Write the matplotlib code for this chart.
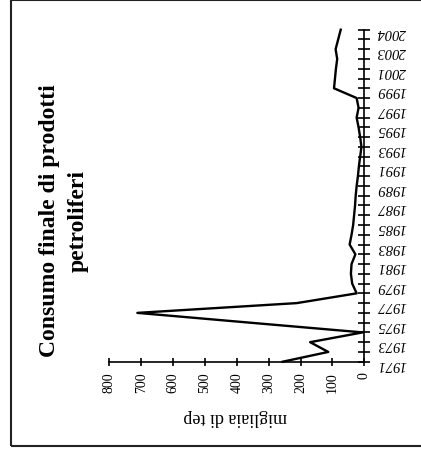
import matplotlib.pyplot as plt
from matplotlib.patches import Rectangle

plt.rcParams['font.family'] = ['Liberation Serif', 'DejaVu Serif']

# category axis (one label every two categories)
years = ['1971', '1972', '1973', '1974', '1975', '1976', '1977', '1978', '1979',
         '1980', '1981', '1982', '1983', '1984', '1985', '1986', '1987', '1988',
         '1989', '1990', '1991', '1992', '1993', '1994', '1995', '1996', '1997',
         '1998', '1999', '2000', '2001', '2002', '2003', '', '2004']

# migliaia di tep
consumo = [256, 113, 170, 5, 360, 712, 212, 24, 38, 42,
           40, 28, 46, 40, 35, 32, 29, 27, 24, 20,
           17, 13, 9, 13, 18, 24, 18, 24, 95, 92,
           89, 85, 90, 82, 74]

value_ticks = [0, 100, 200, 300, 400, 500, 600, 700, 800]

fig = plt.figure(figsize=(4.21, 4.52), dpi=100)
ax = fig.add_axes([109.3 / 421, 1 - 362.7 / 452, 255 / 421, 332 / 452])

pos = list(range(len(years)))
ax.plot(consumo, pos, color='black', lw=1.7, clip_on=False)

ax.set_xlim(800, 0)
ax.set_ylim(0, len(years) - 1)

for side in ['top', 'left']:
    ax.spines[side].set_visible(False)
for side in ['bottom', 'right']:
    ax.spines[side].set_linewidth(1.2)

ax.xaxis.tick_bottom()
ax.yaxis.tick_right()

ax.set_xticks(value_ticks)
ax.set_xticklabels([str(v) for v in value_ticks])
ax.tick_params(axis='x', direction='inout', length=6, width=1.2,
               labelsize=10, labelrotation=90, pad=4)

ax.set_yticks(pos)
ax.set_yticklabels([y if i % 2 == 0 else '' for i, y in enumerate(years)],
                   fontstyle='italic')
ax.tick_params(axis='y', direction='inout', length=8, width=1.2,
               labelsize=10.5, labelrotation=180, pad=5)

fig.text(235.5 / 421, 1 - 418 / 452, 'migliaia di tep', rotation=180,
         ha='center', va='center', fontsize=13)
fig.text(64 / 421, 1 - 221 / 452, 'Consumo finale di prodotti\npetroliferi',
         rotation=90, ha='center', va='center', multialignment='center',
         fontsize=17, fontweight='bold', linespacing=1.45)

fig.patches.append(Rectangle((11 / 421, 5 / 452), 1, 446 / 452,
                             transform=fig.transFigure,
                             fill=False, lw=1.5, ec='#222222'))

fig.savefig('out.png', dpi=100)
